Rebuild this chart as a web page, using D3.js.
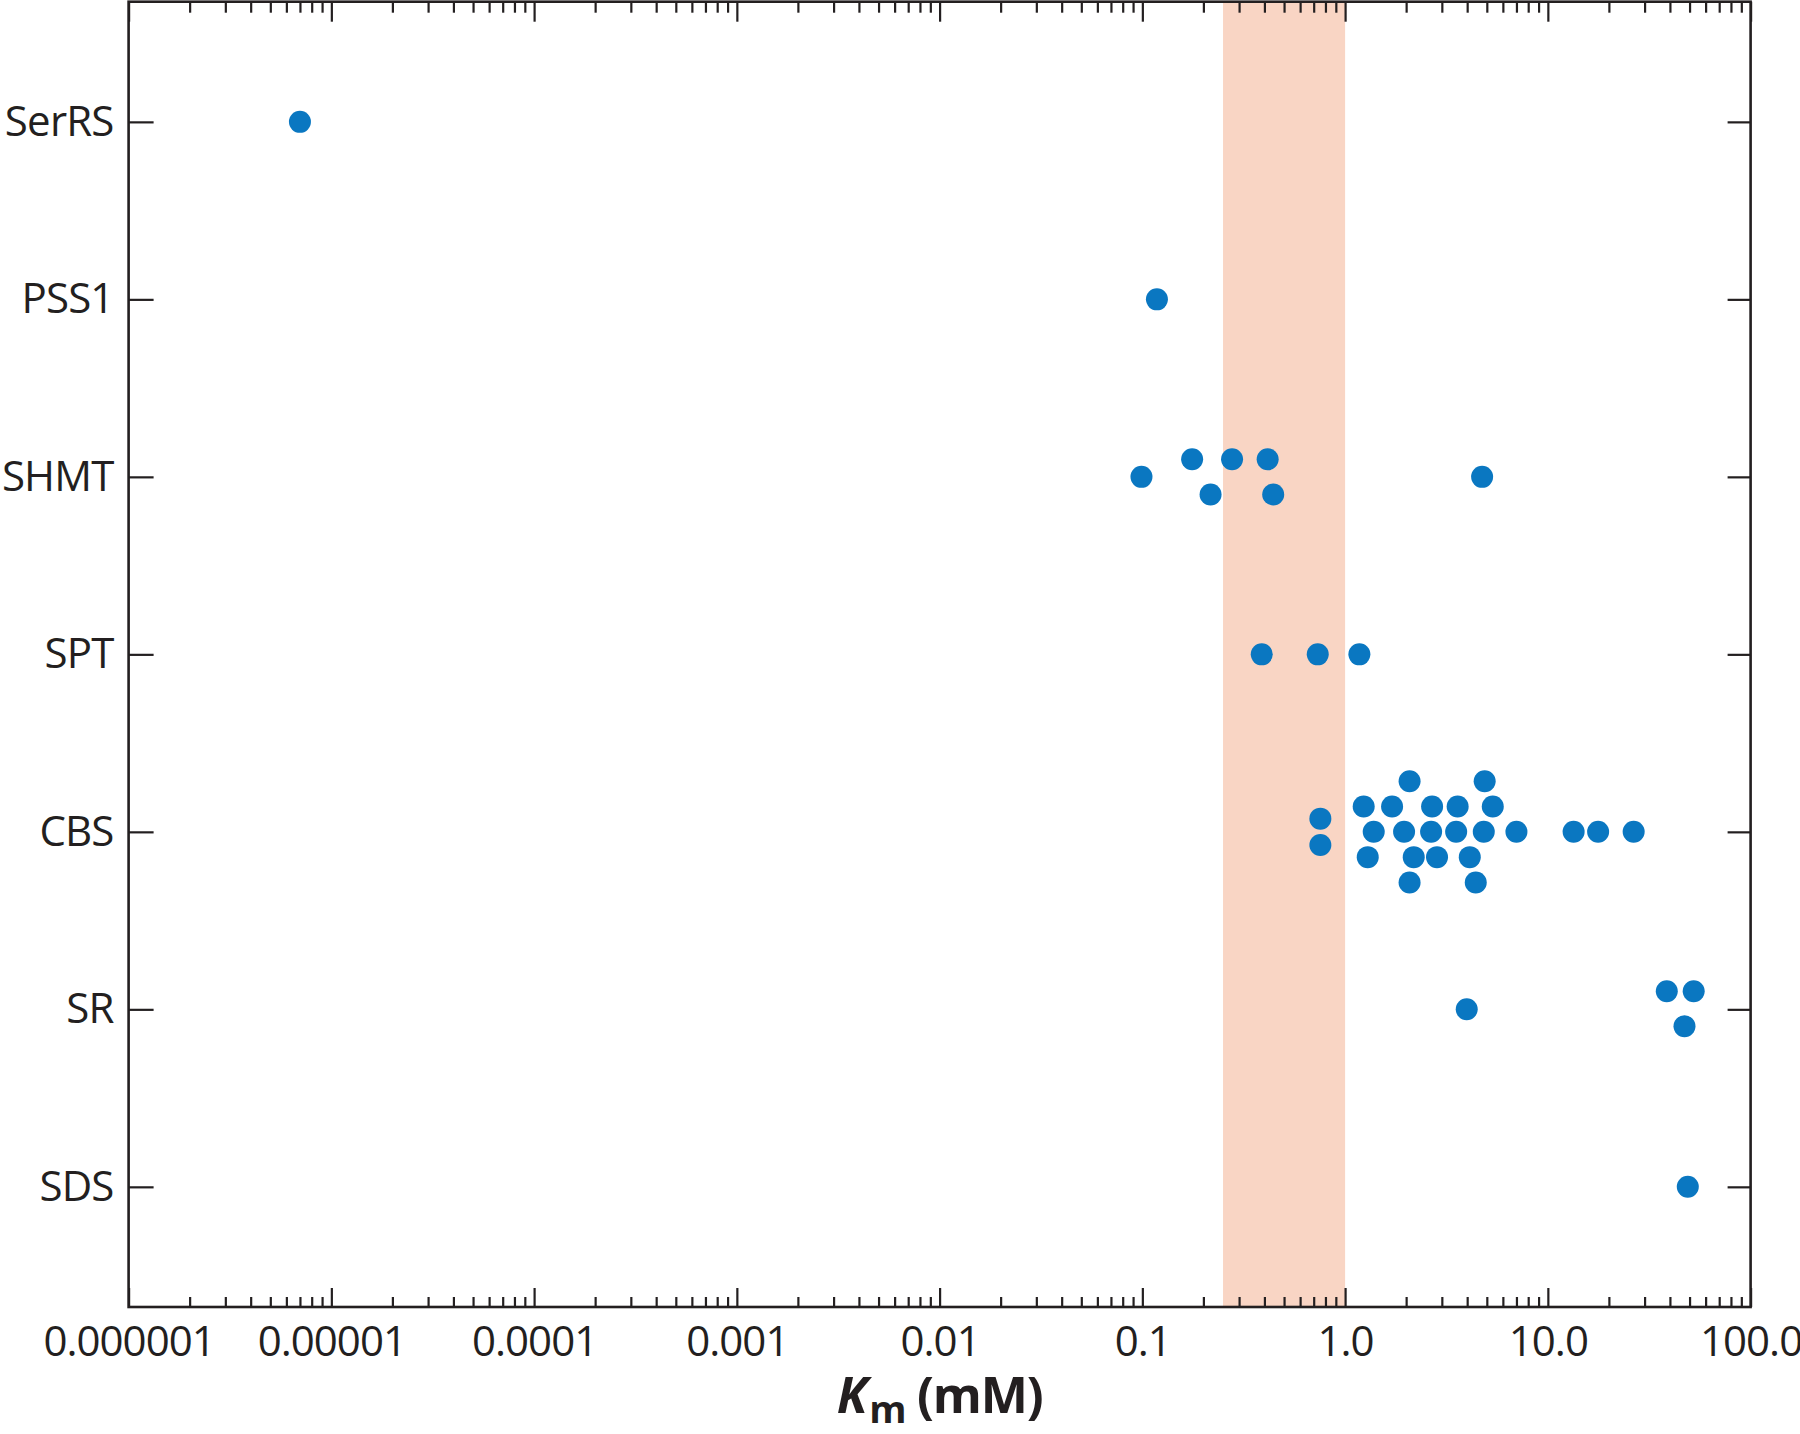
<!DOCTYPE html>
<html>
<head>
<meta charset="utf-8">
<script src="https://cdn.jsdelivr.net/npm/d3@7"></script>
<style>
  html, body { margin: 0; padding: 0; background: #ffffff; }
  svg { display: block; }
</style>
</head>
<body>
<svg id="chart" width="1800" height="1434"></svg>
<script>
// ---------------- data ----------------
const enzymes = ["SerRS", "PSS1", "SHMT", "SPT", "CBS", "SR", "SDS"];

// Km values (mM) per enzyme, and vertical dodge (in dot diameters) used in the original swarm
const serrsKm = [0.000007];
const serrsDodge = [0];

const pss1Km = [0.118];
const pss1Dodge = [0];

const shmtKm = [0.099, 0.176, 0.217, 0.277, 0.415, 0.442, 4.74];
const shmtDodge = [0, -0.8, 0.8, -0.8, -0.8, 0.8, 0];

const sptKm = [0.388, 0.733, 1.176];
const sptDodge = [0, 0, 0];

const cbsKm = [0.755, 0.755,
               2.08, 4.88,
               1.235, 1.705, 2.686, 3.59, 5.35,
               1.384, 1.954, 2.656, 3.53, 4.83, 7.0, 13.4, 17.7, 26.5,
               1.293, 2.18, 2.84, 4.12,
               2.08, 4.41];
const cbsDodge = [-0.6, 0.6,
                  -2.3, -2.3,
                  -1.15, -1.15, -1.15, -1.15, -1.15,
                  0, 0, 0, 0, 0, 0, 0, 0, 0,
                  1.15, 1.15, 1.15, 1.15,
                  2.3, 2.3];

const srKm = [3.98, 38.6, 52.4, 47.2];
const srDodge = [0, -0.82, -0.82, 0.77];

const sdsKm = [49.0];
const sdsDodge = [0];

const shadedRange = [0.25, 1.0];

const majorTicks = [1e-6, 1e-5, 1e-4, 1e-3, 1e-2, 1e-1, 1, 10, 100];
const majorTickLabels = ["0.000001", "0.00001", "0.0001", "0.001", "0.01", "0.1", "1.0", "10.0", "100.0"];
const minorMultipliers = [2, 3, 4, 5, 6, 7, 8, 9];

// ---------------- build rows ----------------
const groups = [
  ["SerRS", serrsKm, serrsDodge],
  ["PSS1", pss1Km, pss1Dodge],
  ["SHMT", shmtKm, shmtDodge],
  ["SPT", sptKm, sptDodge],
  ["CBS", cbsKm, cbsDodge],
  ["SR", srKm, srDodge],
  ["SDS", sdsKm, sdsDodge]
];
const points = [];
groups.forEach(([name, kms, dodges]) => {
  kms.forEach((km, i) => points.push({ enzyme: name, km: km, dodge: dodges[i] }));
});

const minorTicks = [];
for (let i = 0; i < majorTicks.length - 1; i++) {
  minorMultipliers.forEach(m => minorTicks.push(majorTicks[i] * m));
}

// ---------------- layout ----------------
const plotLeft = 128.6, plotRight = 1750.6, plotTop = 1.7, plotBottom = 1307;
const ink = "#231f20";
const dotColor = "#0a77c1";
const bandColor = "#f9d5c4";
const dotR = 11;

const svg = d3.select("#chart");

const x = d3.scaleLog().domain([1e-6, 100]).range([plotLeft, plotRight]);
const y = d3.scalePoint().domain(enzymes).range([plotTop, plotBottom]).padding(0.677);

// shaded range
svg.append("rect")
  .attr("x", x(shadedRange[0]))
  .attr("y", plotTop)
  .attr("width", x(shadedRange[1]) - x(shadedRange[0]))
  .attr("height", plotBottom - plotTop)
  .attr("fill", bandColor);

// axes
const fontFamily = "'Open Sans', 'Noto Sans', sans-serif";

function styleAxis(g) {
  g.select(".domain").remove();
  g.selectAll(".tick line").attr("stroke", ink).attr("stroke-width", 2.2);
  g.selectAll(".tick text").attr("fill", ink).style("font-family", fontFamily);
}

// bottom major
svg.append("g")
  .attr("transform", `translate(0,${plotBottom})`)
  .call(d3.axisBottom(x).tickValues(majorTicks)
        .tickFormat((d, i) => majorTickLabels[i])
        .tickSize(-19).tickPadding(19))
  .call(styleAxis)
  .call(g => g.selectAll(".tick text").style("font-size", "42px").style("letter-spacing", "-1px"));

// bottom minor
svg.append("g")
  .attr("transform", `translate(0,${plotBottom})`)
  .call(d3.axisBottom(x).tickValues(minorTicks).tickFormat("").tickSize(-10))
  .call(styleAxis);

// top major / minor
svg.append("g")
  .attr("transform", `translate(0,${plotTop})`)
  .call(d3.axisTop(x).tickValues(majorTicks).tickFormat("").tickSize(-20))
  .call(styleAxis);
svg.append("g")
  .attr("transform", `translate(0,${plotTop})`)
  .call(d3.axisTop(x).tickValues(minorTicks).tickFormat("").tickSize(-11))
  .call(styleAxis);

// left
svg.append("g")
  .attr("transform", `translate(${plotLeft},0)`)
  .call(d3.axisLeft(y).tickSize(-25).tickPadding(15))
  .call(styleAxis)
  .call(g => g.selectAll(".tick text").style("font-size", "42px").style("letter-spacing", "-0.8px"));

// right
svg.append("g")
  .attr("transform", `translate(${plotRight},0)`)
  .call(d3.axisRight(y).tickSize(-23).tickFormat(""))
  .call(styleAxis);

// frame
svg.append("rect")
  .attr("x", plotLeft).attr("y", plotTop)
  .attr("width", plotRight - plotLeft).attr("height", plotBottom - plotTop)
  .attr("fill", "none").attr("stroke", ink).attr("stroke-width", 2.6);

// dots
svg.append("g").selectAll("circle")
  .data(points)
  .join("circle")
  .attr("cx", d => x(d.km))
  .attr("cy", d => y(d.enzyme) + d.dodge * 2 * dotR)
  .attr("r", dotR)
  .attr("fill", dotColor);

// axis title
const title = svg.append("text")
  .attr("x", (plotLeft + plotRight) / 2)
  .attr("y", 1413)
  .attr("text-anchor", "middle")
  .attr("fill", ink)
  .style("font-family", fontFamily)
  .style("font-weight", "700")
  .style("font-size", "50px")
  .style("letter-spacing", "-1.2px");
title.append("tspan").style("font-style", "italic").text("K");
title.append("tspan").attr("dx", 3).attr("dy", 10).style("font-size", "38px").text("m");
title.append("tspan").attr("dy", -10).text(" (mM)");
</script>
</body>
</html>
